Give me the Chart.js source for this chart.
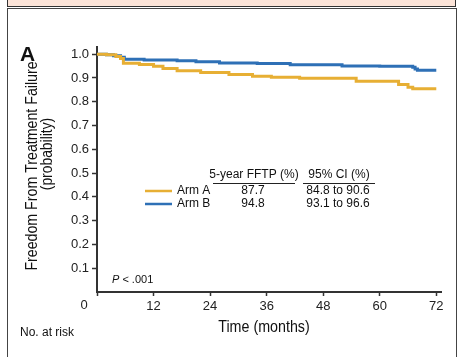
<!DOCTYPE html>
<html>
<head>
<meta charset="utf-8">
<script src="https://cdn.jsdelivr.net/npm/chart.js@4.4.0/dist/chart.umd.min.js"></script>
<style>
  html, body { margin: 0; padding: 0; background: #fff; }
  body { width: 459px; height: 357px; position: relative; overflow: hidden; }
  #bar { position: absolute; left: 7px; top: -2px; width: 447px; height: 7px; background: #fce4d8; border: 1px solid #333; }
  #panel { position: absolute; left: 7px; top: 8px; width: 448px; height: 360px; border: 1.5px solid #444; background: #fff; }
  #km { position: absolute; left: 0; top: 0; }
</style>
</head>
<body>
<div id="bar"></div>
<div id="panel"></div>
<canvas id="km" width="459" height="357"></canvas>
<script>
var SANS = "'Liberation Sans', Arial, sans-serif";

// Kaplan-Meier curves
var armATime = [0, 2, 4, 5, 5.6, 9, 12, 14, 17, 22, 28, 33, 37, 43, 55, 64, 66, 67, 72];
var armASurv = [1.0, 0.997, 0.99, 0.982, 0.962, 0.956, 0.949, 0.94, 0.93, 0.923, 0.914, 0.907, 0.903, 0.899, 0.886, 0.872, 0.861, 0.855, 0.855];
var armBTime = [0, 2, 3.5, 5, 5.8, 10, 17, 21, 26, 34, 41, 52, 60, 67, 67.5, 68, 72];
var armBSurv = [1.0, 0.997, 0.993, 0.987, 0.978, 0.975, 0.972, 0.968, 0.963, 0.961, 0.955, 0.95, 0.949, 0.945, 0.937, 0.932, 0.932];

var xTicks = [0, 12, 24, 36, 48, 60, 72];
var yTicks = [0.1, 0.2, 0.3, 0.4, 0.5, 0.6, 0.7, 0.8, 0.9, 1.0];

var arms = ['Arm A', 'Arm B'];
var fftp = ['87.7', '94.8'];
var ci = ['84.8 to 90.6', '93.1 to 96.6'];
var armColors = ['rgb(231,175,52)', 'rgb(46,112,182)'];

function pts(t, s) {
  return t.map(function (v, i) { return { x: v, y: s[i] }; });
}

// condensed text: squeeze along the writing direction
function narrowText(c, txt, x, y, rot, size, squeeze) {
  c.save();
  c.translate(x, y);
  c.rotate(rot);
  c.scale(squeeze, 1);
  c.textAlign = 'center';
  c.font = size + 'px ' + SANS;
  c.fillText(txt, 0, 0);
  c.restore();
}

var extras = {
  id: 'extras',
  afterDraw: function (chart) {
    var c = chart.ctx;
    var xs = chart.scales.x;
    c.save();
    c.fillStyle = '#111';
    c.textBaseline = 'middle';

    c.font = 'bold 21px ' + SANS;
    c.textAlign = 'left';
    c.fillText('A', 20, 55);

    narrowText(c, 'Freedom From Treatment Failure', 32, 166, -Math.PI / 2, 16.5, 0.86);
    narrowText(c, '(probability)', 47, 154, -Math.PI / 2, 16.5, 0.84);
    narrowText(c, 'Time (months)', 264, 327, 0, 17, 0.84);

    // origin label
    c.font = '13px ' + SANS;
    c.textAlign = 'center';
    c.fillStyle = '#222';
    c.fillText('0', xs.getPixelForValue(0) - 13, 305);

    c.fillStyle = '#111';
    c.font = '12px ' + SANS;
    c.textAlign = 'left';
    c.fillText('No. at risk', 20, 333);

    // P value
    c.font = 'italic 11px ' + SANS;
    c.fillText('P', 112, 280);
    var pw = c.measureText('P ').width;
    c.font = '11px ' + SANS;
    c.fillText('< .001', 112 + pw, 280);

    // table
    c.font = '12px ' + SANS;
    c.textAlign = 'center';
    c.fillText('5-year FFTP (%)', 254, 175);
    c.fillText('95% CI (%)', 339, 175);
    c.strokeStyle = '#222';
    c.lineWidth = 1;
    c.beginPath();
    c.moveTo(213, 183.5); c.lineTo(295, 183.5);
    c.moveTo(303, 183.5); c.lineTo(375, 183.5);
    c.stroke();
    for (var i = 0; i < arms.length; i++) {
      var y = 191 + i * 13;
      c.strokeStyle = armColors[i];
      c.lineWidth = 2.5;
      c.beginPath();
      c.moveTo(145, y); c.lineTo(172, y);
      c.stroke();
      c.textAlign = 'left';
      c.fillText(arms[i], 177, y);
      c.textAlign = 'center';
      c.fillText(fftp[i], 253, y);
      c.fillText(ci[i], 338, y);
    }
    c.restore();
  }
};

new Chart(document.getElementById('km').getContext('2d'), {
  type: 'line',
  data: {
    datasets: [{
      label: 'Arm A',
      data: pts(armATime, armASurv),
      borderColor: armColors[0],
      borderWidth: 3,
      stepped: true,
      pointRadius: 0,
      fill: false
    }, {
      label: 'Arm B',
      data: pts(armBTime, armBSurv),
      borderColor: armColors[1],
      borderWidth: 3,
      stepped: true,
      pointRadius: 0,
      fill: false
    }]
  },
  options: {
    responsive: false,
    animation: false,
    layout: { padding: { left: 0, top: 47, right: 18, bottom: 0 } },
    plugins: { legend: { display: false }, tooltip: { enabled: false } },
    scales: {
      x: {
        type: 'linear',
        min: 0, max: 73,
        afterBuildTicks: function (s) { s.ticks = xTicks.map(function (v) { return { value: v }; }); },
        afterFit: function (s) { s.height = 65; },
        ticks: {
          color: '#222', font: { family: SANS, size: 13 }, padding: 3,
          callback: function (v) { return v === 0 ? '' : v; }
        },
        grid: { display: true, drawOnChartArea: false, tickLength: 4, tickColor: '#333', tickWidth: 1.5 },
        border: { display: true, color: '#333', width: 2 }
      },
      y: {
        type: 'linear',
        min: 0, max: 1.03,
        afterBuildTicks: function (s) { s.ticks = yTicks.map(function (v) { return { value: v }; }); },
        afterFit: function (s) { s.width = 97; },
        ticks: {
          color: '#222', font: { family: SANS, size: 13 }, padding: 3,
          callback: function (v) { return v.toFixed(1); }
        },
        grid: { display: true, drawOnChartArea: false, tickLength: 5, tickColor: '#333', tickWidth: 1.5 },
        border: { display: true, color: '#333', width: 2 }
      }
    }
  },
  plugins: [extras]
});
</script>
</body>
</html>
